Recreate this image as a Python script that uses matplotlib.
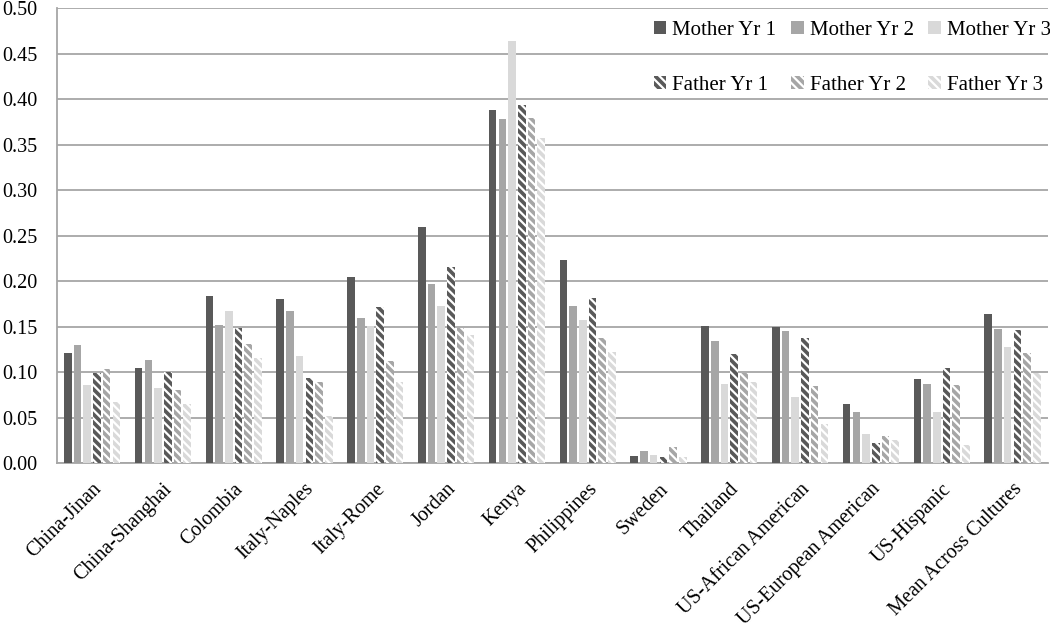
"""Grouped bar chart: mother / father values by culture, years 1-3."""

import matplotlib

matplotlib.use("Agg")
import matplotlib.pyplot as plt
import numpy as np

CATEGORIES = [
    "China-Jinan", "China-Shanghai", "Colombia", "Italy-Naples", "Italy-Rome",
    "Jordan", "Kenya", "Philippines", "Sweden", "Thailand",
    "US-African American", "US-European American", "US-Hispanic",
    "Mean Across Cultures",
]

mother_yr1 = [0.121, 0.105, 0.184, 0.180, 0.205, 0.259, 0.388, 0.223, 0.008, 0.151, 0.150, 0.065, 0.092, 0.164]
mother_yr2 = [0.130, 0.113, 0.152, 0.167, 0.159, 0.197, 0.378, 0.173, 0.013, 0.134, 0.145, 0.056, 0.087, 0.147]
mother_yr3 = [0.086, 0.083, 0.167, 0.118, 0.151, 0.173, 0.464, 0.157, 0.009, 0.087, 0.073, 0.032, 0.056, 0.128]
father_yr1 = [0.099, 0.100, 0.148, 0.094, 0.171, 0.216, 0.394, 0.181, 0.007, 0.120, 0.137, 0.022, 0.104, 0.146]
father_yr2 = [0.103, 0.080, 0.131, 0.089, 0.112, 0.148, 0.379, 0.137, 0.018, 0.099, 0.085, 0.030, 0.086, 0.121]
father_yr3 = [0.067, 0.065, 0.115, 0.052, 0.089, 0.141, 0.357, 0.122, 0.007, 0.089, 0.043, 0.025, 0.020, 0.099]

SERIES = [
    ("Mother Yr 1", mother_yr1, "#595959", None),
    ("Mother Yr 2", mother_yr2, "#a6a6a6", None),
    ("Mother Yr 3", mother_yr3, "#d9d9d9", None),
    ("Father Yr 1", father_yr1, "#595959", "\\\\\\\\"),
    ("Father Yr 2", father_yr2, "#a6a6a6", "\\\\\\\\"),
    ("Father Yr 3", father_yr3, "#d9d9d9", "\\\\\\\\"),
]

plt.rcParams["font.family"] = ["Liberation Serif", "DejaVu Serif"]
plt.rcParams["hatch.linewidth"] = 1.6

fig = plt.figure(figsize=(10.5, 6.3), dpi=100)
ax = fig.add_axes([0.054, 0.265, 0.944, 0.722])

x = np.arange(len(CATEGORIES))
step = 0.137
width = 0.106
handles = {}
for i, (label, vals, color, hatch) in enumerate(SERIES):
    offs = (i - 2.5) * step
    if hatch:
        bars = ax.bar(x + offs, vals, width, color=color, edgecolor="white",
                      hatch=hatch, linewidth=0, label=label, zorder=3)
    else:
        bars = ax.bar(x + offs, vals, width, color=color, linewidth=0,
                      label=label, zorder=3)
    handles[label] = bars

ax.set_xlim(-0.5, len(CATEGORIES) - 0.5)
ax.set_ylim(0, 0.5)
ax.set_yticks(np.arange(0, 0.501, 0.05))
ax.set_yticklabels([f"{v:.2f}" for v in np.arange(0, 0.501, 0.05)], fontsize=14.5)
ax.yaxis.grid(True, color="#a6a6a6", linewidth=1.3, zorder=0)
ax.set_axisbelow(True)
ax.tick_params(axis="y", length=0, pad=14)
ax.tick_params(axis="x", length=0, pad=12)
ax.set_xticks(x)
ax.set_xticklabels(CATEGORIES, rotation=45, ha="right", rotation_mode="anchor",
                   fontsize=14.5)

for side in ("top", "right"):
    ax.spines[side].set_visible(False)
for side in ("left", "bottom"):
    ax.spines[side].set_color("#a6a6a6")
    ax.spines[side].set_linewidth(1.3)

order = ["Mother Yr 1", "Father Yr 1", "Mother Yr 2", "Father Yr 2",
         "Mother Yr 3", "Father Yr 3"]
ax.legend([handles[k] for k in order], order, ncol=3, loc="upper right",
          bbox_to_anchor=(1.016, 1.0), frameon=False, fontsize=15,
          handlelength=0.6, handleheight=0.6, handletextpad=0.3,
          columnspacing=0.7, labelspacing=1.75, borderpad=0.1)

fig.savefig("out.png", dpi=100)
